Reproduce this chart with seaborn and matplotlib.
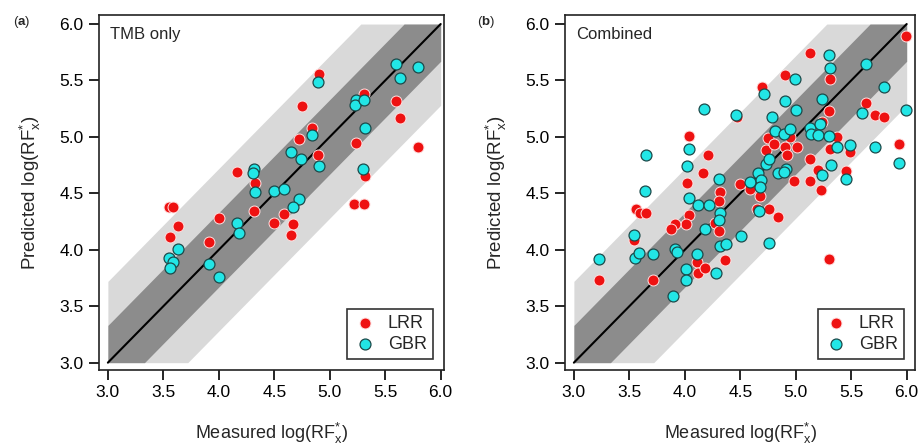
import numpy as np
import pandas as pd
import matplotlib
matplotlib.use("Agg")
import matplotlib.pyplot as plt
import seaborn as sns

# panel (a): TMB only
a_lrr_x = [4.90, 4.75, 4.84, 4.72, 4.89, 5.24, 5.31, 5.60, 5.63, 5.80, 5.32, 5.22, 5.31,
           4.16, 4.33, 4.32, 4.00, 3.91, 3.55, 3.59, 3.63, 3.56, 4.50, 4.59, 4.67, 4.65]
a_lrr_y = [5.56, 5.27, 5.08, 4.98, 4.84, 4.95, 5.38, 5.32, 5.17, 4.91, 4.65, 4.41, 4.41,
           4.69, 4.59, 4.34, 4.28, 4.07, 4.38, 4.38, 4.21, 4.11, 4.24, 4.32, 4.23, 4.13]
a_gbr_x = [4.89, 5.60, 5.80, 5.63, 5.24, 5.23, 5.31, 5.32, 4.84, 4.65, 4.74, 4.90, 5.30, 4.32,
           4.31, 4.33, 4.50, 4.59, 4.72, 4.67, 4.16, 4.18, 3.63, 3.55, 3.59, 3.56, 3.91, 4.00]
a_gbr_y = [5.49, 5.65, 5.62, 5.52, 5.33, 5.28, 5.33, 5.08, 5.02, 4.87, 4.80, 4.74, 4.72, 4.72,
           4.68, 4.51, 4.52, 4.54, 4.45, 4.38, 4.24, 4.15, 4.01, 3.93, 3.89, 3.84, 3.87, 3.76]

# panel (b): Combined
b_lrr_x = [5.99, 5.13, 4.90, 5.31, 4.70, 5.63, 5.71, 5.80, 5.30, 5.24, 4.47, 4.04, 4.21, 4.16,
           4.02, 4.04, 4.01, 3.91, 3.88, 3.56, 3.60, 3.65, 3.54, 3.23, 3.71, 4.11, 4.12, 4.18,
           4.36, 4.27, 4.31, 4.32, 4.31, 4.50, 4.59, 4.68, 4.65, 4.76, 4.84, 4.73, 4.75, 4.80,
           4.90, 4.92, 4.95, 5.01, 4.98, 5.13, 5.13, 5.20, 5.23, 5.31, 5.37, 5.49, 5.45, 5.93,
           5.30]
b_lrr_y = [5.89, 5.74, 5.55, 5.51, 5.44, 5.30, 5.19, 5.18, 5.23, 5.13, 5.18, 5.01, 4.84, 4.68,
           4.59, 4.31, 4.23, 4.23, 4.18, 4.36, 4.33, 4.33, 4.09, 3.73, 3.73, 3.89, 3.79, 3.84,
           3.91, 4.24, 4.17, 4.51, 4.43, 4.58, 4.54, 4.48, 4.36, 4.36, 4.29, 4.88, 4.99, 4.94,
           4.91, 4.84, 5.00, 4.91, 4.61, 4.80, 4.61, 4.71, 4.53, 4.89, 5.00, 4.87, 4.70, 4.94,
           3.92]
b_gbr_x = [5.30, 5.31, 5.63, 5.80, 4.99, 4.90, 4.71, 5.24, 5.99, 5.60, 5.00, 4.79, 4.46, 4.17,
           4.81, 4.89, 4.95, 5.13, 5.14, 5.22, 5.20, 5.30, 5.37, 5.49, 5.71, 5.93, 5.32, 5.24,
           5.45, 4.04, 4.02, 3.65, 3.64, 4.04, 4.12, 4.22, 4.31, 4.32, 4.31, 4.18, 4.51, 3.54,
           3.55, 3.59, 3.23, 3.71, 3.91, 3.93, 4.32, 4.37, 4.11, 4.01, 4.01, 4.28, 3.89, 4.76,
           4.59, 4.66, 4.69, 4.68, 4.67, 4.73, 4.76, 4.84, 4.91, 4.89]
b_gbr_y = [5.73, 5.61, 5.65, 5.44, 5.51, 5.32, 5.38, 5.34, 5.24, 5.21, 5.24, 5.18, 5.19, 5.25,
           5.05, 5.03, 5.07, 5.08, 5.03, 5.11, 5.02, 5.01, 4.91, 4.93, 4.91, 4.77, 4.75, 4.66,
           4.63, 4.89, 4.74, 4.84, 4.52, 4.46, 4.40, 4.40, 4.63, 4.33, 4.26, 4.18, 4.12, 4.13,
           3.93, 3.97, 3.92, 3.96, 4.01, 3.98, 4.03, 4.05, 3.96, 3.83, 3.73, 3.79, 3.59, 4.06,
           4.60, 4.68, 4.62, 4.56, 4.34, 4.76, 4.80, 4.68, 4.72, 4.69]

panel_labels = ["a", "b"]
panel_titles = ["TMB only", "Combined"]
models = ["LRR", "GBR"]
ticks = [3.0, 3.5, 4.0, 4.5, 5.0, 5.5, 6.0]
inner_band = 0.33
outer_band = 0.72

sns.set_style("ticks")
plt.rcParams["font.family"] = ["Liberation Sans", "DejaVu Sans"]
plt.rcParams["mathtext.fontset"] = "custom"
plt.rcParams["mathtext.rm"] = "Liberation Sans"
plt.rcParams["mathtext.it"] = "Liberation Sans:italic"
plt.rcParams["mathtext.bf"] = "Liberation Sans:bold"

fig = plt.figure(figsize=(9.21, 4.48), dpi=100)
ax_a = fig.add_axes([99 / 921, 78 / 448, 345 / 921, 355 / 448])
ax_b = fig.add_axes([565 / 921, 78 / 448, 350 / 921, 355 / 448])

panels = [
    (ax_a, a_lrr_x, a_lrr_y, a_gbr_x, a_gbr_y, (2.92, 6.03)),
    (ax_b, b_lrr_x, b_lrr_y, b_gbr_x, b_gbr_y, (2.92, 6.075)),
]

for i, (ax, lx, ly, gx, gy, xlim) in enumerate(panels):
    # error bands around the 1:1 line, clipped to the 3-6 square
    for d, col in [(outer_band, "#d9d9d9"), (inner_band, "#8c8c8c")]:
        xs = np.array([3.0, 3.0 + d, 6.0 - d, 6.0])
        ax.fill_between(xs, np.clip(xs - d, 3, 6), np.clip(xs + d, 3, 6),
                        color=col, linewidth=0, zorder=1)
    ax.plot([3, 6], [3, 6], color="black", lw=1.5, zorder=2)

    df_l = pd.DataFrame({"measured": lx, "predicted": ly, "model": models[0]})
    df_g = pd.DataFrame({"measured": gx, "predicted": gy, "model": models[1]})
    sns.scatterplot(data=df_l, x="measured", y="predicted", ax=ax, color="#ee1111",
                    edgecolor="#ffe0e0", linewidth=0.7, s=62, label=models[0], zorder=3)
    sns.scatterplot(data=df_g, x="measured", y="predicted", ax=ax, color="#22e6e6",
                    edgecolor="#1c4a4a", linewidth=0.9, s=62, label=models[1], zorder=4)

    ax.set_xlim(*xlim)
    ax.set_ylim(2.935, 6.08)
    ax.set_xticks(ticks)
    ax.set_yticks(ticks)
    ax.set_xticklabels([f"{t:.1f}" for t in ticks])
    ax.set_yticklabels([f"{t:.1f}" for t in ticks])
    ax.tick_params(direction="out", length=7, width=1.2, labelsize=12.5, colors="black", pad=4)
    for sp in ax.spines.values():
        sp.set_visible(True)
        sp.set_linewidth(1.2)
        sp.set_color("#222222")
    ax.set_xlabel(r"Measured log(RF$^{*}_{\mathrm{x}}$)", fontsize=13, labelpad=15)
    ax.set_ylabel(r"Predicted log(RF$^{*}_{\mathrm{x}}$)", fontsize=13.5, labelpad=12)
    ax.text(0.032, 0.965, panel_titles[i], transform=ax.transAxes, ha="left", va="top",
            fontsize=12)

    leg = ax.legend(loc="lower right", frameon=True, fancybox=False, fontsize=13,
                    borderaxespad=0.6, handletextpad=0.6, labelspacing=0.2,
                    borderpad=0.35, handlelength=1.3, markerscale=1.0)
    leg.get_frame().set_edgecolor("black")
    leg.get_frame().set_linewidth(1.2)

fig.text(13 / 921, 1 - 22 / 448, r"($\mathbf{a}$)", fontsize=9.5, va="center", ha="left")
fig.text(477 / 921, 1 - 22 / 448, r"($\mathbf{b}$)", fontsize=9.5, va="center", ha="left")

fig.savefig("out.png", dpi=100)
